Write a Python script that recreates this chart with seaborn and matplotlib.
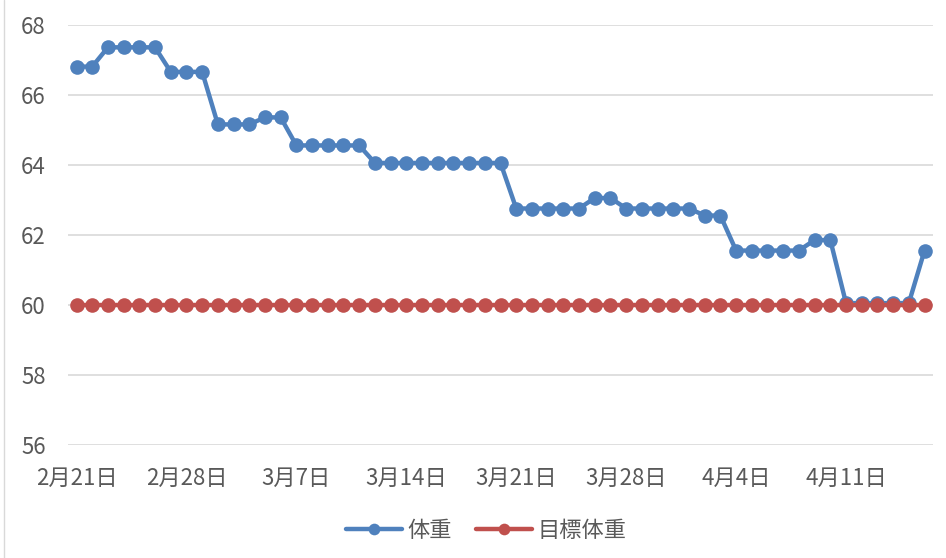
import pandas as pd
import matplotlib.pyplot as plt
import matplotlib.lines as mlines
import seaborn as sns

# DATA
start_date = "2021-02-21"
weight = [66.8, 66.8, 67.35, 67.35, 67.35, 67.35, 66.65, 66.65, 66.65,
          65.15, 65.15, 65.15, 65.35, 65.35,
          64.55, 64.55, 64.55, 64.55, 64.55,
          64.05, 64.05, 64.05, 64.05, 64.05, 64.05, 64.05, 64.05, 64.05,
          62.75, 62.75, 62.75, 62.75, 62.75, 63.05, 63.05,
          62.75, 62.75, 62.75, 62.75, 62.75, 62.55, 62.55,
          61.55, 61.55, 61.55, 61.55, 61.55, 61.85, 61.85,
          60.05, 60.05, 60.05, 60.05, 60.05, 61.55]
target = [60.0] * len(weight)
series_names = ["体重", "目標体重"]
y_ticks = [56, 58, 60, 62, 64, 66, 68]

dates = pd.date_range(start_date, periods=len(weight))
df = pd.DataFrame({"date": dates, "weight": weight, "target": target})

# STYLE
sns.set_theme(style="white")
plt.rcParams["font.family"] = ["Noto Sans CJK JP", "DejaVu Sans"]
text_color = "#595959"
blue = "#4F81BD"
red = "#C0504D"

fig = plt.figure(figsize=(9.46, 5.58), dpi=100)
ax = fig.add_axes([0.0719, 0.2025, 0.9144, 0.7535])

# PLOT LINES
sns.lineplot(data=df, x="date", y="weight", ax=ax, color=blue,
             linewidth=3.2, marker="o", markersize=10.5, markeredgewidth=0,
             label=series_names[0])
sns.lineplot(data=df, x="date", y="target", ax=ax, color=red,
             linewidth=3.2, marker="o", markersize=10.5, markeredgewidth=0,
             label=series_names[1])

# AXES
ax.set_ylim(56, 68)
ax.set_xlim(dates[0] - pd.Timedelta(hours=13), dates[-1] + pd.Timedelta(hours=13))
ax.set_yticks(y_ticks)
ax.set_yticklabels([str(v) for v in y_ticks])
tick_dates = dates[::7]
ax.set_xticks(tick_dates)
ax.set_xticklabels([f"{d.month}月{d.day}日" for d in tick_dates])
ax.tick_params(axis="y", length=0, pad=16, labelsize=16, labelcolor=text_color)
ax.tick_params(axis="x", length=0, pad=16, labelsize=16, labelcolor=text_color)
ax.set_xlabel("")
ax.set_ylabel("")
ax.grid(axis="y", color="#D9D9D9", linewidth=1.2)
ax.grid(axis="x", visible=False)
for s in ax.spines.values():
    s.set_visible(False)

# LEGEND
handles, labels = ax.get_legend_handles_labels()
ax.get_legend().remove()
fig.legend(handles, labels, loc="center", bbox_to_anchor=(0.514, 0.05),
           ncol=2, frameon=False, fontsize=16, labelcolor=text_color,
           markerscale=0.8, handlelength=2.5, handletextpad=0.25,
           columnspacing=1.1)

# sheet border artifact at the left edge
fig.add_artist(mlines.Line2D([0.004, 0.004], [0, 1], color="#D9D9D9",
                             linewidth=1, transform=fig.transFigure))

plt.savefig("out.png", dpi=100)
